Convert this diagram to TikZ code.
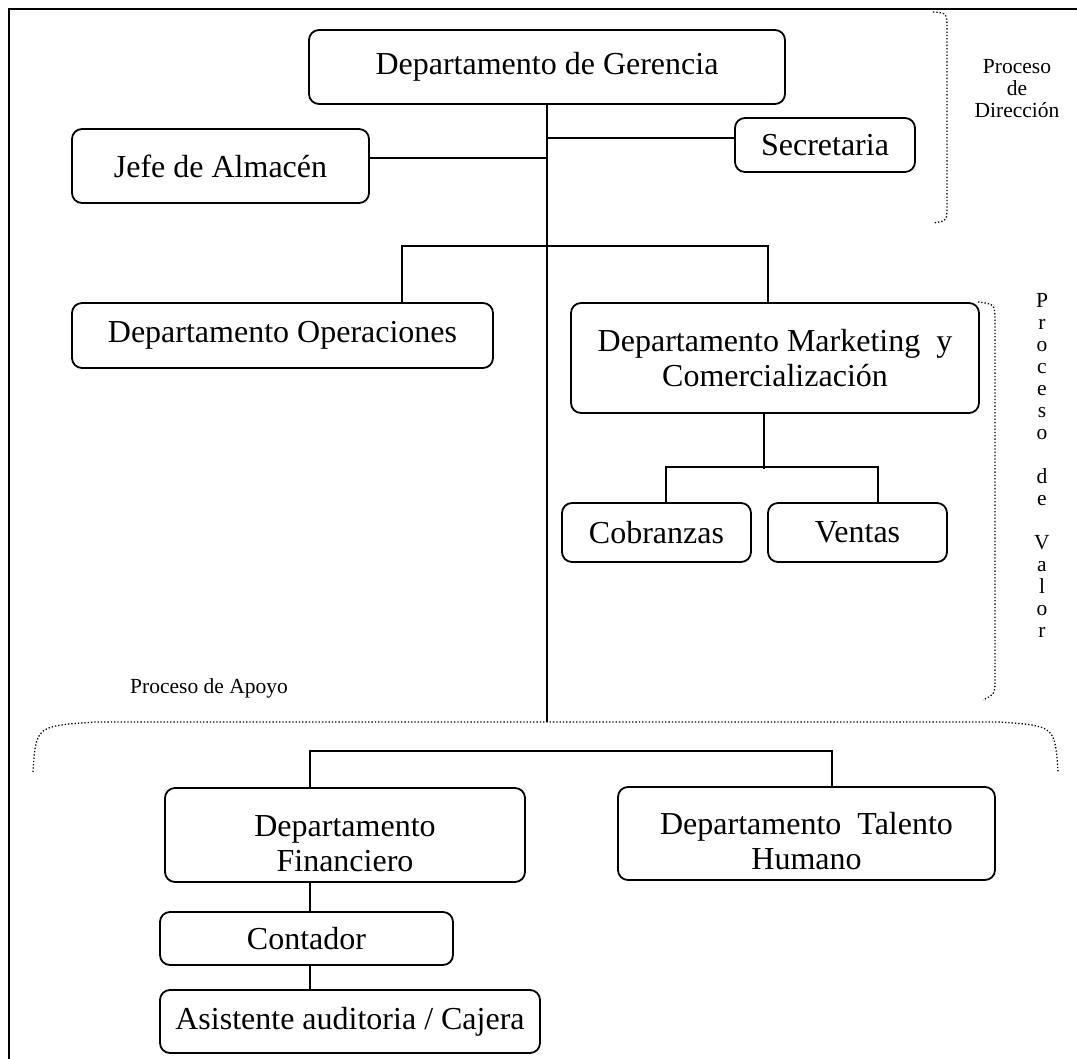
\documentclass[tikz,border=0pt]{standalone}
\usepackage{fontspec}
\setmainfont{Liberation Serif}
\usetikzlibrary{positioning}

\newcommand{\boxfont}{\fontsize{32}{35}\selectfont}
\newcommand{\procfont}{\fontsize{21.5}{22}\selectfont}
\newcommand{\lowstrut}{\rule{0pt}{38pt}}

\begin{document}
\begin{tikzpicture}[x=1pt,y=-1pt]
	
	\tikzset{
		unit/.style={draw,line width=1.8pt,rounded corners=10pt,font=\boxfont,
			align=center,inner sep=0pt},
		link/.style={line width=1.8pt},
		brace/.style={dotted,line width=1.3pt},
		proc/.style={font=\procfont,align=center,inner sep=0pt},
	}
	
	\useasboundingbox (0,0) rectangle (1077,1059);
	
	% outer frame (only left and top sides fall inside the page)
	\draw[line width=2pt] (9,1059) -- (9,9) -- (1077,9);
	
	%========================================
	% Direccion
	%========================================
	\node[unit,minimum width=476,minimum height=74] (ger) at (547,67) {Departamento de Gerencia};
	\node[unit,minimum width=297,minimum height=74] (jefe) at (220.5,166) {Jefe de Almacén};
	\node[unit,minimum width=180,minimum height=54] (sec) at (825,145) {Secretaria};
	
	% trunk down to the support bracket
	\coordinate (trunkend) at (547,722);
	\draw[link] (ger.south) -- (trunkend);
	\draw[link] ([yshift=8pt]jefe.east) -- ([yshift=8pt]jefe.east -| ger.south);
	\draw[link] ([yshift=7pt]sec.west) -- ([yshift=7pt]sec.west -| ger.south);
	
	% bracket and label
	\draw[brace] (933,12) .. controls (947,13) .. (947,30) -- (947,205) .. controls (947,221) .. (933,223);
	\node[proc] (pdir) at (1017,89) {Proceso\\de\\Dirección};
	
	%========================================
	% Valor
	%========================================
	\node[unit,minimum width=421,minimum height=65] (oper) at (282.5,335.5) {Departamento Operaciones};
	\node[unit,minimum width=408,minimum height=110] (mkt) at (775,358) {Departamento Marketing\ \ y\\Comercialización};
	\node[unit,minimum width=189,minimum height=59] (cob) at (656.5,532.5) {Cobranzas};
	\node[unit,minimum width=179,minimum height=59] (ven) at (857.5,532.5) {Ventas};
	
	\draw[link] ([xshift=119.5pt]oper.north) -- ++(0,-56) -| ([xshift=-7pt]mkt.north);
	\draw[link] ([xshift=-11pt]mkt.south) -- ++(0,55);
	\draw[link] ([xshift=9.5pt]cob.north) -- ++(0,-35) -| ([xshift=20.5pt]ven.north);
	
	% bracket and label
	\draw[brace] (978,302) .. controls (995,304) .. (995,322) -- (995,678) .. controls (995,694) .. (983,700);
	\node[proc] (pval) at (1042,465) {P\\r\\o\\c\\e\\s\\o\\[22pt]d\\e\\[22pt]V\\a\\l\\o\\r};
	
	%========================================
	% Apoyo
	%========================================
	\node[proc] (papo) at (209,688) {Proceso de Apoyo};
	\draw[brace] (33,772) .. controls (36,726) .. (95,722) -- (1000,722) .. controls (1055,726) .. (1058,772);
	
	\node[unit,minimum width=360,minimum height=94] (fin) at (345,835) {\lowstrut Departamento\\Financiero};
	\node[unit,minimum width=377,minimum height=93] (tal) at (806.5,833.5) {\lowstrut Departamento\ \ Talento\\Humano};
	\node[unit,minimum width=293,minimum height=53] (cont) at (306.5,938.5) {Contador};
	\node[unit,minimum width=380,minimum height=63] (asis) at (350,1021.5) {Asistente auditoria / Cajera};
	
	\draw[link] ([xshift=-35pt]fin.north) -- ++(0,-36) -| ([xshift=25.5pt]tal.north);
	\draw[link] ([xshift=-35pt]fin.south) -- ([xshift=-35pt]fin.south |- cont.north);
	\draw[link] ([xshift=3.5pt]cont.south) -- ([xshift=3.5pt]cont.south |- asis.north);
	
\end{tikzpicture}
\end{document}
